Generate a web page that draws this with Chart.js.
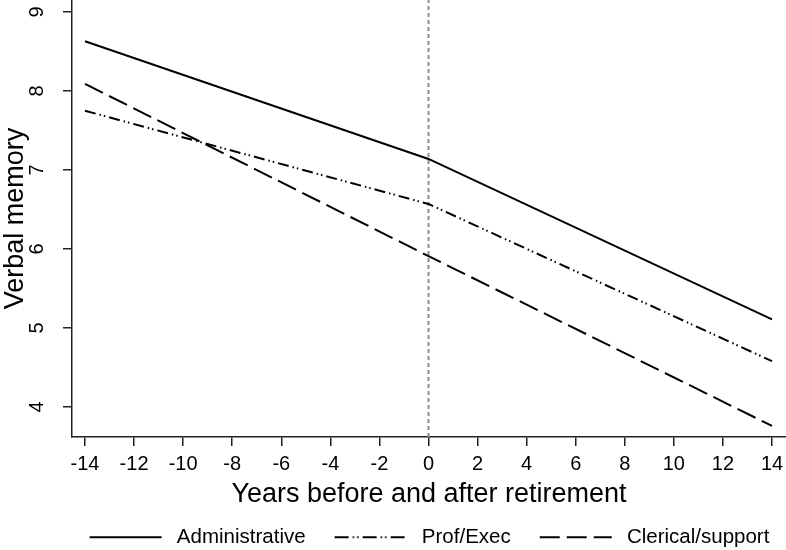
<!DOCTYPE html>
<html>
<head>
<meta charset="utf-8">
<script src="https://cdn.jsdelivr.net/npm/chart.js@4"></script>
<style>
  html, body { margin: 0; padding: 0; background: #fff; }
  #wrap { width: 786px; height: 550px; }
</style>
</head>
<body>
<div id="wrap"><canvas id="chart"></canvas></div>
<script>
const years = [-14, 0, 14];
const administrative = [8.63, 7.14, 5.11];
const profExec = [7.75, 6.57, 4.58];
const clerical = [8.09, 5.91, 3.76];
const xTicks = [-14, -12, -10, -8, -6, -4, -2, 0, 2, 4, 6, 8, 10, 12, 14];
const yTicks = [4, 5, 6, 7, 8, 9];
const retirementYear = 0;

const font = "'Liberation Sans', Arial, sans-serif";
const pts = values => years.map((x, i) => ({ x, y: values[i] }));

const dashProf = [11, 4, 1.5, 3, 1.5, 4];
const dashClerical = [20, 7];

// line samples for the legend (dashes survive this way); box is 100 wide, line sits at 23..95
const shift = 25;
function lineSample(dash) {
  const c = document.createElement("canvas");
  c.width = 100;
  c.height = 4;
  const g = c.getContext("2d");
  g.strokeStyle = "#000";
  g.lineWidth = 2;
  g.setLineDash(dash);
  g.beginPath();
  g.moveTo(23, 2);
  g.lineTo(95, 2);
  g.stroke();
  return c;
}
const samples = [lineSample([]), lineSample([14, 4, 1.5, 3, 1.5, 4]), lineSample(dashClerical)];

new Chart(document.getElementById("chart"), {
  type: "line",
  data: {
    datasets: [
      {
        label: "Administrative",
        data: pts(administrative),
        borderColor: "#000",
        borderWidth: 2,
        pointRadius: 0
      },
      {
        label: "Prof/Exec",
        data: pts(profExec),
        borderColor: "#000",
        borderWidth: 2,
        borderDash: dashProf,
        pointRadius: 0
      },
      {
        label: "Clerical/support",
        data: pts(clerical),
        borderColor: "#000",
        borderWidth: 2,
        borderDash: dashClerical,
        pointRadius: 0
      },
      {
        label: "retirement",
        data: [{ x: retirementYear, y: 3 }, { x: retirementYear, y: 10 }],
        borderColor: "#8c8c8c",
        borderWidth: 2,
        borderDash: [4, 3],
        pointRadius: 0
      }
    ]
  },
  options: {
    responsive: true,
    maintainAspectRatio: false,
    animation: false,
    // legend is centred under the plot, not the page: push it right by `shift`
    layout: { padding: { top: 0, right: -shift, left: shift, bottom: -7.5 } },
    plugins: {
      tooltip: { enabled: false },
      legend: {
        position: "bottom",
        labels: {
          generateLabels: chart =>
            Chart.defaults.plugins.legend.labels.generateLabels(chart)
              .filter(item => item.text !== "retirement")
              .map(item => ({ ...item, pointStyle: samples[item.datasetIndex] })),
          usePointStyle: true,
          pointStyleWidth: 100,
          boxHeight: 4,
          padding: 6,
          color: "#000",
          font: { family: font, size: 20.5 }
        }
      }
    },
    scales: {
      x: {
        type: "linear",
        min: -14.53,
        max: 14.57,
        afterBuildTicks: axis => { axis.ticks = xTicks.map(v => ({ value: v })); },
        afterFit: axis => { axis.height = 84; axis.paddingLeft = 0; axis.paddingRight = 0; },
        border: { display: true, color: "#222", width: 1.5 },
        grid: { display: true, drawOnChartArea: false, drawTicks: true, tickLength: 9, color: "#222", lineWidth: 1.5 },
        ticks: { color: "#000", padding: 6, maxRotation: 0, font: { family: font, size: 20 } },
        title: {
          display: true,
          text: "Years before and after retirement",
          color: "#000",
          padding: { top: 0, bottom: 10.5 },
          font: { family: font, size: 27 }
        }
      },
      y: {
        min: 3.62,
        max: 9.152,
        afterBuildTicks: axis => { axis.ticks = yTicks.map(v => ({ value: v })); },
        afterFit: axis => { axis.width = 72 - shift; axis.paddingTop = 0; axis.paddingBottom = 0; },
        border: { display: true, color: "#222", width: 1.5 },
        grid: { display: true, drawOnChartArea: false, drawTicks: true, tickLength: 9, color: "#222", lineWidth: 1.5 },
        ticks: {
          color: "#000",
          padding: 20,
          minRotation: 90,
          maxRotation: 90,
          crossAlign: "center",
          font: { family: font, size: 20, lineHeight: 1 }
        },
        title: {
          display: true,
          text: "Verbal memory",
          color: "#000",
          padding: { top: -1 - shift, bottom: 0 },
          font: { family: font, size: 27 }
        }
      }
    }
  }
});
</script>
</body>
</html>
